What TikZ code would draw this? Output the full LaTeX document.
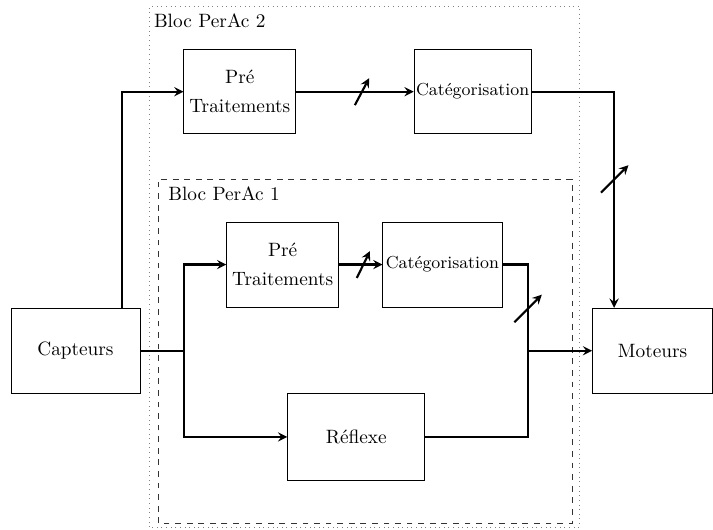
\documentclass[tikz,border=0pt]{standalone}
\usepackage{amsmath}
\usepackage{tikz}
\usepackage{xcolor}

\tikzset{
 	bloc/.style={draw, align=center, inner sep=1pt, minimum height=1.55cm},
 	lien/.style={line width=1.1pt,->,>=stealth},
 	fil/.style={line width=1.1pt},
 	reglage/.style={line width=1.1pt,->,>=stealth}
}

\begin{document}
\begin{tikzpicture}
 			\useasboundingbox (0,0) rectangle (12.99,9.64);
 			\draw[dotted,gray] (2.73,0.04) rectangle (10.56,9.53);
 			\draw[dashed,black!80] (2.88,0.11) rectangle (10.42,6.38);
 			\node[anchor=base west, inner sep=0pt] (titre2) at (2.80,9.13) {Bloc PerAc 2};
 			\node[anchor=base west, inner sep=0pt] (titre1) at (3.06,5.99) {Bloc PerAc 1};
 			\node[bloc, minimum width=2.35cm] (capteurs) at (1.375,3.25) {Capteurs};
 			\node[bloc, minimum width=2.19cm] (moteurs) at (11.89,3.25) {Moteurs};
 			\node[bloc, minimum width=2.04cm, minimum height=1.53cm] (pre2) at (4.37,7.97) {Pr\'e\\[3pt]Traitements};
 			\node[bloc, minimum width=2.02cm, minimum height=1.53cm] (cat2) at (8.61,7.97) {\small Cat\'egorisation};
 			\node[bloc, minimum width=2.04cm] (pre1) at (5.15,4.82) {Pr\'e\\[3pt]Traitements};
 			\node[bloc, minimum width=2.17cm] (cat1) at (8.06,4.82) {\small Cat\'egorisation};
 			\node[bloc, minimum width=2.5cm, minimum height=1.57cm] (reflexe) at (6.49,1.68) {R\'eflexe};
 			\coordinate (g) at (3.35,3.25);
 			\coordinate (d) at (9.62,3.25);
 			\coordinate (r3) at (11.2,6.38);
 			\coordinate (r4) at (9.62,4.02);
 			\draw[lien] ([xshift=-0.33cm]capteurs.north east) |- (pre2.west);
 			\draw[lien] (pre2.east) -- coordinate[pos=0.56] (r2) (cat2.west);
 			\draw[lien] (cat2.east) -| ([xshift=0.4cm]moteurs.north west);
 			\draw[fil] (capteurs.east) -- (g);
 			\draw[lien] (g) |- (pre1.west);
 			\draw[lien] (g) |- (reflexe.west);
 			\draw[lien] (pre1.east) -- coordinate[pos=0.56] (r1) (cat1.west);
 			\draw[fil] (cat1.east) -| (d);
 			\draw[fil] (reflexe.east) -| (d);
 			\draw[lien] (d) -- (moteurs.west);
 			\draw[reglage] ([shift={(-0.13,-0.245)}]r2) -- ++(0.26,0.49);
 			\draw[reglage] ([shift={(-0.12,-0.245)}]r1) -- ++(0.24,0.49);
 			\draw[reglage] ([shift={(-0.25,-0.25)}]r3) -- ++(0.5,0.5);
 			\draw[reglage] ([shift={(-0.25,-0.25)}]r4) -- ++(0.5,0.5);%
 		\end{tikzpicture}
\end{document}
